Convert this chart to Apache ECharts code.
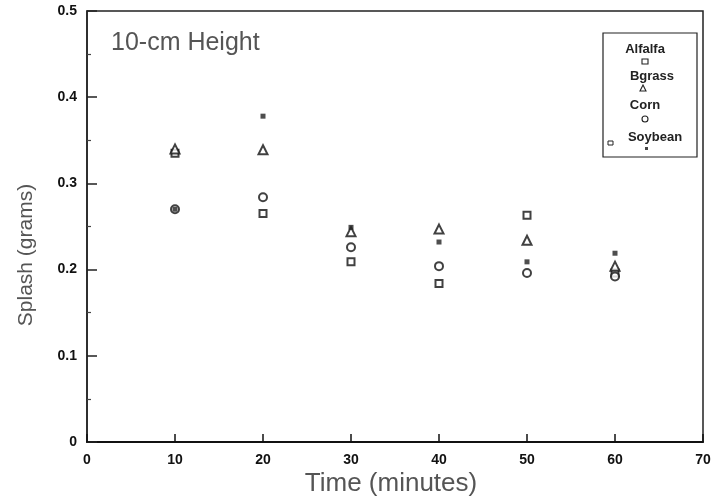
<!DOCTYPE html>
<html>
<head>
<meta charset="utf-8">
<script src="https://cdn.jsdelivr.net/npm/echarts@6/dist/echarts.min.js"></script>
<style>
  html, body { margin: 0; padding: 0; background: #fff; }
  #chart { width: 726px; height: 501px; }
</style>
</head>
<body>
<div id="chart"></div>
<script>
// Splash at 10-cm drop height, by crop residue, over time
const timeMinutes = [10, 20, 30, 40, 50, 60];
const alfalfa = [0.335, 0.265, 0.209, 0.184, 0.263, 0.196];
const bgrass  = [0.340, 0.339, 0.244, 0.247, 0.234, 0.204];
const corn    = [0.270, 0.284, 0.226, 0.204, 0.196, 0.192];
const soybean = [0.270, 0.378, 0.249, 0.232, 0.209, 0.219];
const xTicks = [0, 10, 20, 30, 40, 50, 60, 70];
const yTicks = [0, 0.1, 0.2, 0.3, 0.4, 0.5];

const pair = vals => timeMinutes.map((t, i) => [t, vals[i]]);

const labelFont = { fontFamily: 'Liberation Sans, Arial, sans-serif', fontWeight: 'bold', fontSize: 14, color: '#111' };
const titleColor = '#555';
const legendFont = 'bold 13px "Liberation Sans Narrow", Arial, sans-serif';

const openMarker = { color: '#fff', borderColor: '#111', borderWidth: 2 };

const chart = echarts.init(document.getElementById('chart'));
chart.setOption({
  animation: false,
  backgroundColor: '#fff',
  grid: { left: 87, right: 23, top: 11, bottom: 59, show: true, borderColor: '#222', borderWidth: 1.5, backgroundColor: 'transparent' },
  xAxis: {
    type: 'value',
    min: xTicks[0], max: xTicks[xTicks.length - 1], interval: 10,
    axisLine: { show: true, lineStyle: { color: '#111', width: 2 } },
    axisTick: { show: true, inside: true, length: 8, lineStyle: { color: '#111', width: 1.5 } },
    axisLabel: Object.assign({ margin: 11 }, labelFont),
    splitLine: { show: false }
  },
  yAxis: {
    type: 'value',
    min: yTicks[0], max: yTicks[yTicks.length - 1], interval: 0.1,
    axisLine: { show: true, lineStyle: { color: '#222', width: 1.5 } },
    axisTick: { show: true, inside: true, length: 10, lineStyle: { color: '#222', width: 1.5 } },
    minorTick: { show: true, splitNumber: 2, length: 4, lineStyle: { color: '#444', width: 1.2 } },
    axisLabel: Object.assign({ margin: 10 }, labelFont),
    splitLine: { show: false }
  },
  series: [
    { name: 'Alfalfa', type: 'scatter', symbol: 'rect', symbolSize: 7, itemStyle: openMarker, data: pair(alfalfa), z: 3 },
    { name: 'Bgrass', type: 'scatter', symbol: 'triangle', symbolSize: 9, itemStyle: openMarker, data: pair(bgrass), z: 3 },
    { name: 'Corn', type: 'scatter', symbol: 'circle', symbolSize: 8, itemStyle: openMarker, data: pair(corn), z: 3 },
    { name: 'Soybean', type: 'scatter', symbol: 'rect', symbolSize: 5, itemStyle: { color: '#222' }, data: pair(soybean), z: 4 }
  ],
  graphic: [
    { type: 'text', x: 111, y: 43, style: { text: '10-cm Height', font: '25px "Liberation Sans", Arial, sans-serif', fill: titleColor, verticalAlign: 'middle' } },
    { type: 'text', x: 26, y: 255, rotation: Math.PI / 2, style: { text: 'Splash (grams)', font: '21px "Liberation Sans", Arial, sans-serif', fill: titleColor, align: 'center', verticalAlign: 'middle' } },
    { type: 'text', x: 391, y: 484, style: { text: 'Time (minutes)', font: '26px "Liberation Sans", Arial, sans-serif', fill: titleColor, align: 'center', verticalAlign: 'middle' } },
    // legend box with labels above their markers
    { type: 'rect', shape: { x: 603, y: 33, width: 94, height: 124 }, style: { fill: '#fff', stroke: '#222', lineWidth: 1.2 }, z: 10 },
    { type: 'text', x: 645, y: 49, style: { text: 'Alfalfa', font: legendFont, fill: '#222', align: 'center', verticalAlign: 'middle' }, z: 11 },
    { type: 'rect', shape: { x: 642, y: 59, width: 6, height: 5 }, style: { fill: '#fff', stroke: '#222', lineWidth: 1.1 }, z: 11 },
    { type: 'text', x: 652, y: 76, style: { text: 'Bgrass', font: legendFont, fill: '#222', align: 'center', verticalAlign: 'middle' }, z: 11 },
    { type: 'polygon', shape: { points: [[643, 85], [640, 91], [646, 91]] }, style: { fill: '#fff', stroke: '#222', lineWidth: 1.1 }, z: 11 },
    { type: 'text', x: 645, y: 105, style: { text: 'Corn', font: legendFont, fill: '#222', align: 'center', verticalAlign: 'middle' }, z: 11 },
    { type: 'circle', shape: { cx: 645, cy: 119, r: 3 }, style: { fill: '#fff', stroke: '#222', lineWidth: 1.1 }, z: 11 },
    { type: 'text', x: 655, y: 137, style: { text: 'Soybean', font: legendFont, fill: '#222', align: 'center', verticalAlign: 'middle' }, z: 11 },
    { type: 'rect', shape: { x: 608, y: 141, width: 5, height: 4 }, style: { fill: '#fff', stroke: '#222', lineWidth: 1 }, z: 11 },
    { type: 'rect', shape: { x: 645, y: 147, width: 3, height: 3 }, style: { fill: '#444' }, z: 11 }
  ]
});
</script>
</body>
</html>
